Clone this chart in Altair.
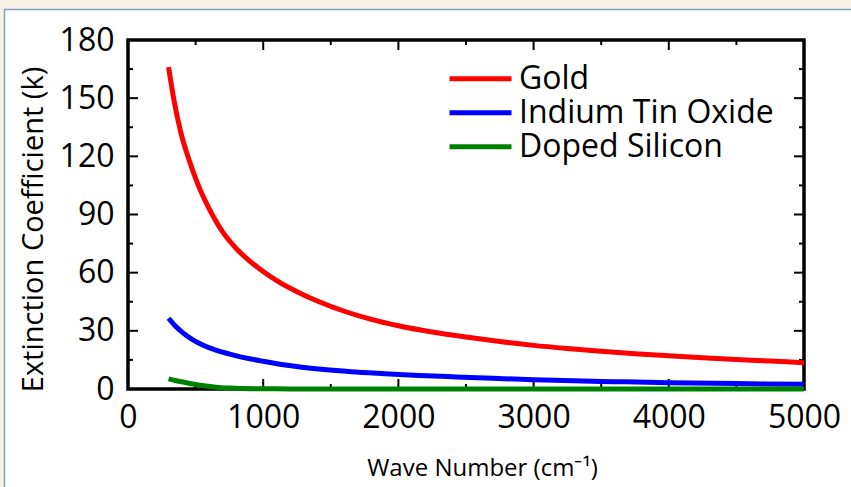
import altair as alt
import pandas as pd

# ---- data ----
series_names = ["Gold", "Indium Tin Oxide", "Doped Silicon"]
series_colors = ["#ff0000", "#0000ff", "#008000"]

gold_x = [300, 340, 390, 450, 520, 600, 700, 800, 900, 1000, 1100, 1250, 1400, 1600, 1800, 2000,
          2250, 2500, 2750, 3000, 3250, 3500, 3750, 4000, 4250, 4500, 4750, 5000]
gold_k = [166, 149, 132.5, 118.5, 105, 93, 81, 72.5, 66, 60.6, 55.9, 50.2, 45.4, 40.1, 35.9, 32.6,
          29.4, 26.8, 24.5, 22.5, 20.9, 19.5, 18.2, 17.1, 16.1, 15.2, 14.4, 13.6]

ito_x = [300, 350, 400, 480, 560, 650, 780, 900, 1000, 1150, 1300, 1450, 1650, 1900, 2150, 2400,
         2700, 3000, 3300, 3600, 4000, 4500, 5000]
ito_k = [36.5, 32.5, 29.3, 25.3, 22.4, 20.0, 17.5, 15.6, 14.3, 12.5, 11.1, 10.0, 8.9, 7.9, 7.0, 6.3,
         5.5, 4.8, 4.2, 3.8, 3.25, 2.8, 2.4]

si_x = [300, 350, 400, 480, 560, 650, 750, 850, 1000, 1200, 1500, 2000, 3000, 4000, 5000]
si_k = [5.2, 4.4, 3.7, 2.6, 1.7, 0.95, 0.5, 0.25, 0.1, 0.05, 0.03, 0.02, 0.01, 0.01, 0.01]

x_labels = [0, 1000, 2000, 3000, 4000, 5000]
y_labels = [0, 30, 60, 90, 120, 150, 180]
x_major = [1000, 2000, 3000, 4000]
x_minor = [500, 1500, 2500, 3500, 4500]
y_major = [30, 60, 90, 120, 150]
y_minor = [15, 45, 75, 105, 135, 165]

x_title = "Wave Number (cm⁻¹)"
y_title = "Extinction Coefficient (k)"

FONT = "Open Sans"
W, H = 676, 349
BEIGE = "#f8f1e5"
FRAME = "#7ba3bd"

rows = []
for name, xs, ks in zip(series_names, [gold_x, ito_x, si_x], [gold_k, ito_k, si_k]):
    for x, k in zip(xs, ks):
        rows.append({"series": name, "wn": x, "k": k})
df = pd.DataFrame(rows)

xscale = alt.Scale(domain=[0, 5000], nice=False, zero=False)
yscale = alt.Scale(domain=[0, 180], nice=False, zero=False)

x_axis = alt.Axis(
    values=x_labels, format="d", title=x_title, ticks=False, grid=False, domain=False,
    labelFontSize=32, labelFont=FONT, labelColor="black", labelPadding=13,
    labelFlush=False, labelOverlap=False,
    titleFont=FONT, titleFontSize=24, titleFontWeight="normal", titleColor="black",
    titleX=354, titleY=86, titleBaseline="alphabetic", titleAlign="center")
y_axis = alt.Axis(
    values=y_labels, format="d", title=y_title, ticks=False, grid=False, domain=False,
    labelFontSize=32, labelFont=FONT, labelColor="black", labelPadding=14,
    labelFlush=False, labelOverlap=False,
    titleFont=FONT, titleFontSize=29, titleFontWeight="normal", titleColor="black",
    titleAngle=270, titleX=-86, titleY=189, titleBaseline="alphabetic", titleAlign="center")

one = pd.DataFrame({"a": [0]})
top_strip = alt.Chart(one).mark_rect(fill=BEIGE).encode(
    x=alt.value(-128), x2=alt.value(723), y=alt.value(-40), y2=alt.value(-30.5))
left_strip = alt.Chart(one).mark_rect(fill=BEIGE).encode(
    x=alt.value(-128), x2=alt.value(-123.5), y=alt.value(-40), y2=alt.value(447))
top_line = alt.Chart(one).mark_rule(color=FRAME, strokeWidth=1.5).encode(
    x=alt.value(-123.5), x2=alt.value(723), y=alt.value(-30.5))
left_line = alt.Chart(one).mark_rule(color=FRAME, strokeWidth=1.5).encode(
    x=alt.value(-123.5), y=alt.value(-30.5), y2=alt.value(447))


def xticks(vals, y0, y1):
    return alt.Chart(pd.DataFrame({"wn": vals})).mark_rule(color="black", strokeWidth=2).encode(
        x=alt.X("wn:Q", scale=xscale, axis=x_axis), y=alt.value(y0), y2=alt.value(y1)
    )


def yticks(vals, x0, x1):
    return alt.Chart(pd.DataFrame({"k": vals})).mark_rule(color="black", strokeWidth=2).encode(
        y=alt.Y("k:Q", scale=yscale, axis=y_axis), x=alt.value(x0), x2=alt.value(x1)
    )


ticks = [
    xticks(x_major, H, H - 10), xticks(x_minor, H, H - 5),
    xticks(x_major, 0, 10), xticks(x_minor, 0, 5),
    yticks(y_major, 0, 10), yticks(y_minor, 0, 5),
    yticks(y_major, W, W - 10), yticks(y_minor, W, W - 5),
]

lines = alt.Chart(df).mark_line(strokeWidth=5, interpolate="monotone", strokeCap="butt").encode(
    x=alt.X("wn:Q", scale=xscale, axis=x_axis),
    y=alt.Y("k:Q", scale=yscale, axis=y_axis),
    color=alt.Color("series:N", sort=series_names,
                    scale=alt.Scale(domain=series_names, range=series_colors),
                    legend=alt.Legend(orient="none", legendX=319, legendY=23, title=None,
                                      symbolType="stroke", symbolSize=3844, symbolStrokeWidth=5,
                                      clipHeight=31.7, labelFontSize=32, labelFont=FONT,
                                      labelColor="black", labelLimit=0, labelOffset=5,
                                      rowPadding=1, padding=0)),
)

chart = alt.layer(top_strip, left_strip, top_line, left_line, *ticks, lines).properties(
    width=W, height=H,
    autosize=alt.AutoSizeParams(type="none"),
    padding={"left": 128, "top": 40, "right": 47, "bottom": 98},
    background="white",
).configure_view(stroke="black", strokeWidth=3.5)

chart.save("out.html", embed_options={"renderer": "svg", "actions": False})
